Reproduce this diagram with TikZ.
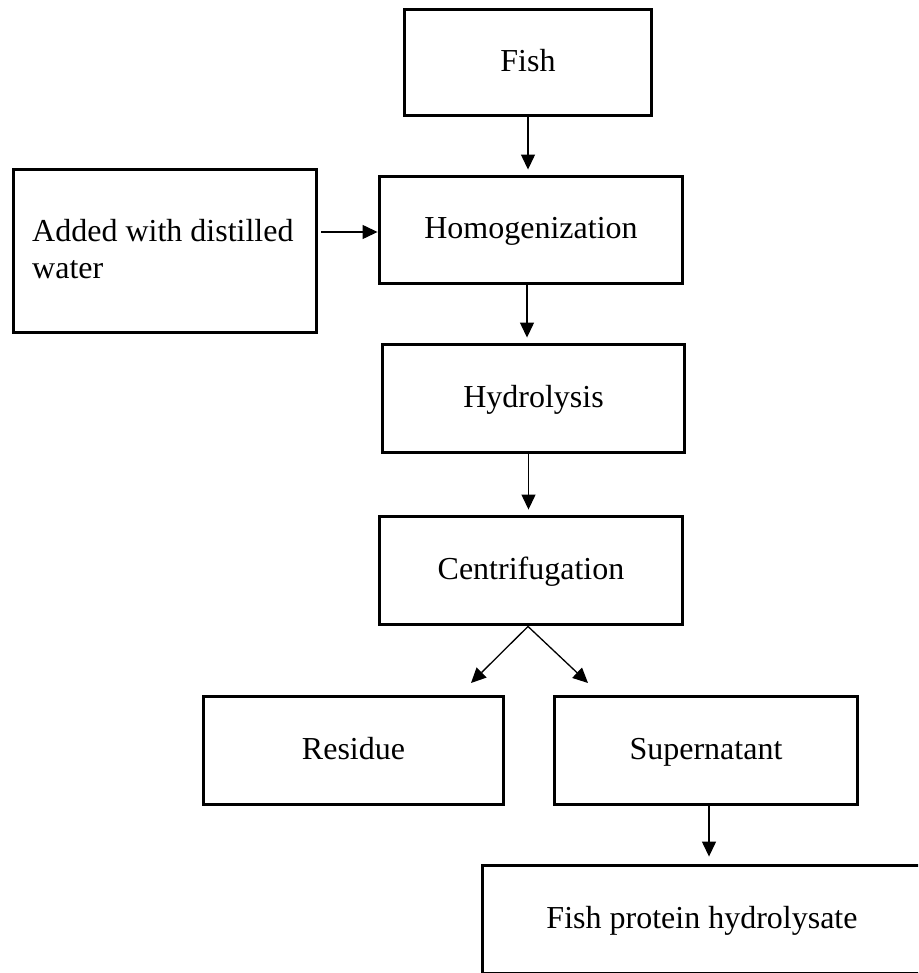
\documentclass[tikz,border=0pt]{standalone}
\usepackage{fontspec}
\setmainfont{Liberation Serif}
\usetikzlibrary{arrows.meta}
\tikzset{
  box/.style={draw=black, line width=3.9pt, rectangle, inner sep=0pt, align=center,
    text height=22pt, text depth=4pt, font=\fontsize{32}{37}\selectfont},
  lbl/.style={inner sep=0pt, font=\fontsize{32}{37}\selectfont},
  arr/.style={draw=black, line width=1.3pt, -{Triangle[width=14pt,length=15pt]}},
}
\begin{document}
\begin{tikzpicture}[x=1pt,y=-1pt]
\useasboundingbox (0,0) rectangle (918,973);
\clip (0,0) rectangle (918,973);
\node[box, minimum width=247pt, minimum height=106pt] (fish) at (528,62.5) {Fish};
\node[box, minimum width=303pt, minimum height=107pt] (homog) at (531,230) {Homogenization};
\node[box, minimum width=303pt, minimum height=163pt] (added) at (165,251) {};
\node[lbl, anchor=base west] (addedtext) at (32,242) {\parbox[t]{280pt}{\raggedright Added with distilled\\water}};
\node[box, minimum width=302pt, minimum height=108pt] (hydro) at (533.5,398.5) {Hydrolysis};
\node[box, minimum width=303pt, minimum height=108pt] (centri) at (531,570.5) {Centrifugation};
\node[box, minimum width=300pt, minimum height=108pt] (residue) at (353.5,750.5) {Residue};
\node[box, minimum width=303pt, minimum height=108pt] (super) at (706,750.5) {Supernatant};
\node[box, minimum width=439pt, minimum height=108.5pt] (fph) at (702,919.75) {Fish protein hydrolysate};
\coordinate (rtip) at (471,683);
\coordinate (stip) at (588,683);
\draw[arr, shorten >=5pt] (fish.south) -- (fish.south |- homog.north);
\draw[arr, shorten <=3pt] ([yshift=19pt]added.east) -- ([yshift=19pt]added.east -| homog.west);
\draw[arr, shorten >=5pt] ([xshift=-4pt]homog.south) -- ([xshift=-4pt]homog.south |- hydro.north);
\draw[arr, shorten >=5pt] ([xshift=-5pt]hydro.south) -- ([xshift=-5pt]hydro.south |- centri.north);
\draw[arr] ([xshift=-3pt]centri.south) -- (rtip);
\draw[arr] ([xshift=-3pt]centri.south) -- (stip);
\draw[arr, shorten >=7pt] ([xshift=3pt]super.south) -- ([xshift=3pt]super.south |- fph.north);
\end{tikzpicture}
\end{document}
